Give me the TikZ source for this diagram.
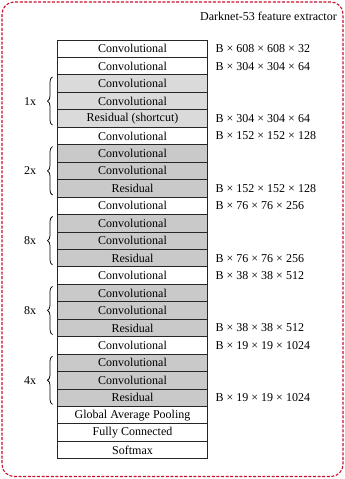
\documentclass[tikz,border=0pt]{standalone}
\usepackage{fontspec}
\setmainfont{Liberation Serif}
\definecolor{frameRed}{HTML}{C8102E}
\definecolor{grpLight}{HTML}{DADADA}
\definecolor{grpDark}{HTML}{C9C9C9}
\usetikzlibrary{positioning, decorations.pathreplacing}
\tikzset{
  layer/.style={draw=black!85, line width=0.8pt, fill=white, minimum width=150pt,
                minimum height=17.45pt, inner sep=0pt, outer sep=0pt},
  lightlayer/.style={layer, fill=grpLight},
  darklayer/.style={layer, fill=grpDark},
  dimlabel/.style={anchor=west, inner sep=0pt},
  repbrace/.style={decorate, decoration={brace, amplitude=5pt}, line width=0.75pt},
}

\begin{document}
\begin{tikzpicture}[x=1pt, y=1pt, font=\fontsize{12}{14}\selectfont]
\useasboundingbox (0,0) rectangle (345,-479);
% dashed frame and title
\draw[frameRed, line width=1.1pt, dash pattern=on 3pt off 1.6pt, rounded corners=12pt]
  (2,-2) rectangle (343,-476.5);
\node[anchor=base east, inner sep=0pt] (title) at (337,-20) {Darknet-53 feature extractor};

% layer stack
\node[layer] (c1) at (132.5,-48.7) {Convolutional};
\node[layer, below=0pt of c1] (c2) {Convolutional};
\node[lightlayer, below=0pt of c2] (a1) {Convolutional};
\node[lightlayer, below=0pt of a1] (a2) {Convolutional};
\node[lightlayer, below=0pt of a2] (a3) {Residual (shortcut)};
\node[layer, below=0pt of a3] (c3) {Convolutional};
\node[darklayer, below=0pt of c3] (b1) {Convolutional};
\node[darklayer, below=0pt of b1] (b2) {Convolutional};
\node[darklayer, below=0pt of b2] (b3) {Residual};
\node[layer, below=0pt of b3] (c4) {Convolutional};
\node[darklayer, below=0pt of c4] (d1) {Convolutional};
\node[darklayer, below=0pt of d1] (d2) {Convolutional};
\node[darklayer, below=0pt of d2] (d3) {Residual};
\node[layer, below=0pt of d3] (c5) {Convolutional};
\node[darklayer, below=0pt of c5] (e1) {Convolutional};
\node[darklayer, below=0pt of e1] (e2) {Convolutional};
\node[darklayer, below=0pt of e2] (e3) {Residual};
\node[layer, below=0pt of e3] (c6) {Convolutional};
\node[darklayer, below=0pt of c6] (f1) {Convolutional};
\node[darklayer, below=0pt of f1] (f2) {Convolutional};
\node[darklayer, below=0pt of f2] (f3) {Residual};
\node[layer, below=0pt of f3] (gap) {Global Average Pooling};
\node[layer, below=0pt of gap] (fc) {Fully Connected};
\node[layer, below=0pt of fc] (soft) {Softmax};

% output sizes
\foreach \row/\size in {c1/608 × 608 × 32, c2/304 × 304 × 64, a3/304 × 304 × 64,
    c3/152 × 152 × 128, b3/152 × 152 × 128, c4/76 × 76 × 256, d3/76 × 76 × 256,
    c5/38 × 38 × 512, e3/38 × 38 × 512, c6/19 × 19 × 1024, f3/19 × 19 × 1024}
  \node[dimlabel, right=8pt of \row] (size-\row) {B × \size};

% repeat braces
\foreach \g/\rep in {a/1x, b/2x, d/8x, e/8x, f/4x}
  \draw[repbrace] ([xshift=-5pt, yshift=2pt]\g3.south west)
    -- ([xshift=-5pt, yshift=-2pt]\g1.north west)
    node[midway, left=16pt, inner sep=0pt] (rep-\g) {\rep};
\end{tikzpicture}
\end{document}
